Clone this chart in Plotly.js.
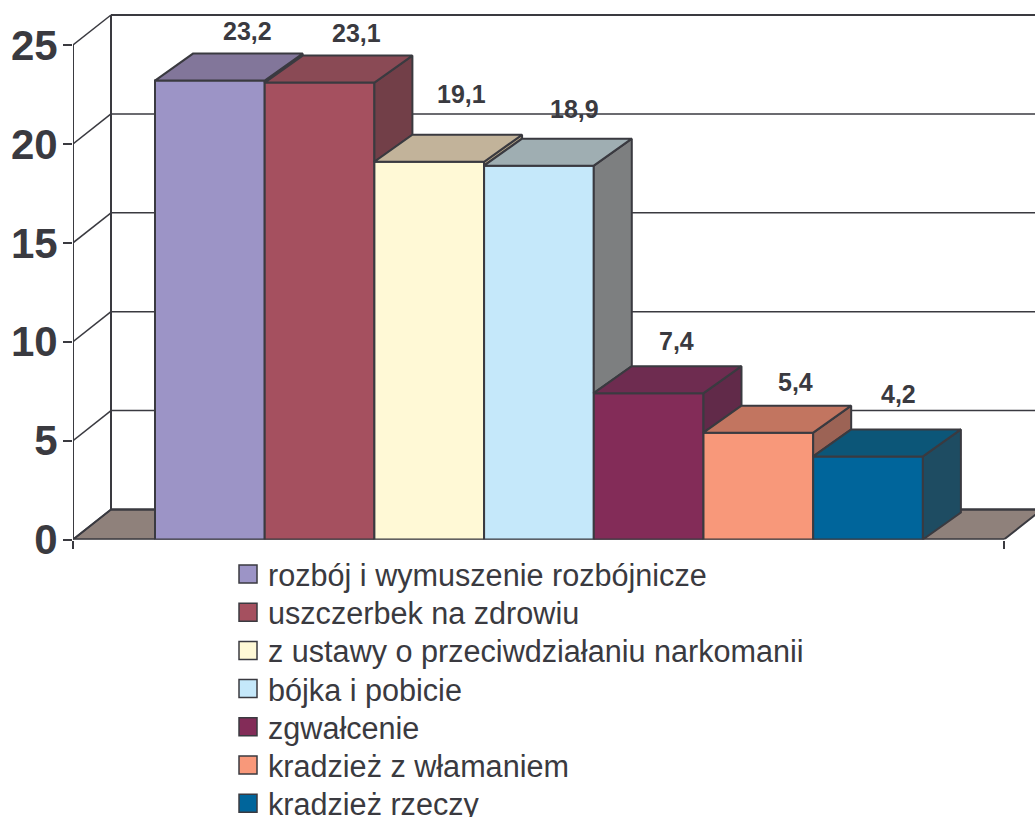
<!DOCTYPE html>
<html>
<head>
<meta charset="utf-8">
<script src="https://cdn.plot.ly/plotly-3.0.1.min.js"></script>
<style>html,body{margin:0;padding:0;background:#fff;overflow:hidden}</style>
</head>
<body>
<div id="chart" style="width:1035px;height:817px"></div>
<script>
const categories = ["rozbój i wymuszenie rozbójnicze","uszczerbek na zdrowiu","z ustawy o przeciwdziałaniu narkomanii","bójka i pobicie","zgwałcenie","kradzież z włamaniem","kradzież rzeczy"];
const values = [23.2,23.1,19.1,18.9,7.4,5.4,4.2];
const labels = ["23,2","23,1","19,1","18,9","7,4","5,4","4,2"];
const frontColors = ["#9C94C6","#A5505F","#FFF9D6","#C5E8FA","#832C58","#F8987A","#00659B"];
const topColors = ["#82769A","#8A4A55","#C2B39A","#9FAEB2","#6E2C50","#C27560","#0C5678"];
const sideColors = ["#6F6488","#723F48","#A89A80","#7D7F80","#612A49","#9C6355","#1E4C62"];
const yTicks = [0,5,10,15,20,25];
const labelShiftX = [0,-1,-6,-2,-10,-1,-8];
const labelShiftY = [23,23,41,30,25,24,35];

const ink = "#3A3A40", floorColor = "#8F817B";
const xMin = -1.2475, xMax = 7.522, xEnd = 7.239, yMax = 27.275;
const depthX = 0.3464, wallY = 1.517, barY = 1.365;
const xStart = xMin;
const legendFirstCenter = 574, legendStep = 38.2;

const traces = [];
categories.forEach((name, i) => {
  traces.push({type:"bar", name, x:[i], y:[values[i]], width:1,
    marker:{color:frontColors[i], line:{color:ink, width:2}}, hoverinfo:"name+y"});
});
categories.forEach((name, i) => {
  const v = values[i], next = i + 1 < values.length ? values[i + 1] : 0;
  const l = i - 0.5, r = i + 0.5;
  traces.push({type:"scatter", mode:"lines", fill:"toself", fillcolor:sideColors[i],
    x:[r, r + depthX, r + depthX, r, r], y:[v, v + barY, next + barY, next, v],
    line:{color:ink, width:2}, showlegend:false, hoverinfo:"skip"});
  traces.push({type:"scatter", mode:"lines", fill:"toself", fillcolor:topColors[i],
    x:[l, l + depthX, r + depthX, r, l], y:[v, v + barY, v + barY, v, v],
    line:{color:ink, width:2}, showlegend:false, hoverinfo:"skip"});
});

const shapes = [];
const ln = (x0, y0, x1, y1, w) => ({type:"line", layer:"below", xref:"x", yref:"y", x0, y0, x1, y1, line:{color:ink, width:w}});
shapes.push({type:"path", layer:"below", xref:"x", yref:"y",
  path:`M${xStart},0 L${xStart + depthX},${wallY} L${xEnd + depthX},${wallY} L${xEnd},0 Z`,
  fillcolor:floorColor, line:{color:ink, width:2}});
yTicks.forEach(t => {
  shapes.push(ln(xStart, t, xStart + depthX, t + wallY, 1.5));
  shapes.push(ln(xStart + depthX, t + wallY, xEnd + depthX, t + wallY, t === 25 || t === 0 ? 2 : 1.5));
});
shapes.push(ln(xStart, 0, xStart, yTicks[yTicks.length - 1], 2));
shapes.push(ln(xStart + depthX, wallY, xStart + depthX, yTicks[yTicks.length - 1] + wallY, 2));
shapes.push(ln(xStart, 0, xEnd, 0, 2));

const annotations = values.map((v, i) => ({
  x: i + depthX, y: v + barY, text: labels[i], showarrow:false,
  xshift: labelShiftX[i], yshift: labelShiftY[i], xanchor:"center", yanchor:"middle",
  font:{family:"Liberation Sans", size:25, color:ink, weight:"bold"}
}));

const layout = {
  width:1035, height:817, autosize:false,
  margin:{l:0, r:0, t:0, b:0, pad:0},
  paper_bgcolor:"#fff", plot_bgcolor:"rgba(0,0,0,0)",
  barmode:"overlay", showlegend:true,
  font:{family:"Liberation Sans", color:ink},
  xaxis:{domain:[73/1035, 1], range:[xMin, xMax], showgrid:false, zeroline:false, showline:false,
    tickmode:"array", tickvals:[xStart, xEnd], ticktext:["",""], ticks:"outside", ticklen:8, tickwidth:2, tickcolor:ink, showticklabels:false},
  yaxis:{domain:[277.5/817, 1], range:[0, yMax], showgrid:false, zeroline:false, showline:false,
    tickmode:"array", tickvals:yTicks, ticktext:yTicks.map(String), ticks:"outside", ticklen:9, tickwidth:2, tickcolor:ink,
    ticklabelstandoff:-3,
    tickfont:{family:"Liberation Sans", size:42, color:ink, weight:"bold"}},
  legend:{x:0.2203, y:0.40, xanchor:"left", yanchor:"top",
    bgcolor:"rgba(0,0,0,0)", borderwidth:0, font:{family:"Liberation Sans", size:30.6, color:ink}, itemclick:false, itemdoubleclick:false},
  shapes, annotations
};

Plotly.newPlot("chart", traces, layout, {displayModeBar:false, responsive:false}).then(gd => {
  const legend = gd.querySelector("g.legend");
  gd.querySelectorAll("g.legend g.legendpoints path").forEach(p => {
    p.setAttribute("d", "M9,9H-9V-9H9Z");
    p.style.strokeWidth = "1.5px";
  });
  const sb = legend.querySelector(".scrollbox");
  if (sb) sb.removeAttribute("clip-path");
  const items = [...legend.querySelectorAll("g.traces")];
  const origin = legend.querySelector("g.groups") || legend;
  const parentTop = origin.getScreenCTM().f;
  items.forEach((g, i) => {
    const m = /translate\(\s*([-\d.]+)[ ,]+([-\d.]+)/.exec(g.getAttribute("transform"));
    g.setAttribute("transform", `translate(${m ? m[1] : 0},${legendFirstCenter + i * legendStep - parentTop})`);
  });
});
</script>
</body>
</html>
